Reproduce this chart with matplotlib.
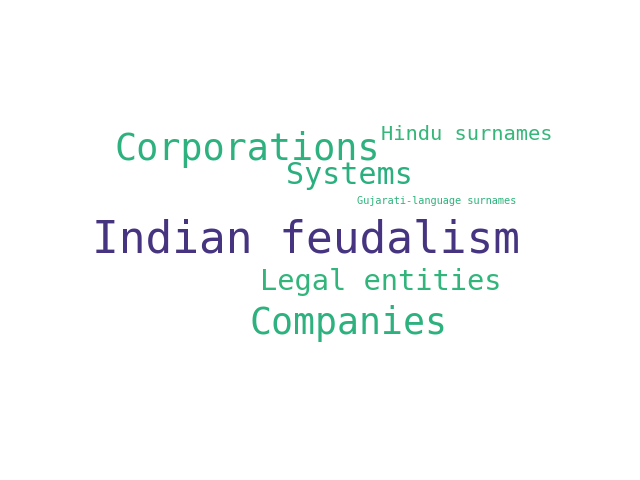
import matplotlib.pyplot as plt

# words and their relative weights
words = ["Indian feudalism", "Corporations", "Companies", "Systems",
         "Legal entities", "Hindu surnames", "Gujarati-language surnames"]
sizes = [32, 26.5, 26.3, 21.6, 20.6, 14.7, 7.4]
colors = ["#463480", "#2db17e", "#2db17e", "#2aaf7f", "#31b57b", "#35b779", "#2fb47c"]
# layout of the cloud (pixel centres on a 640x480 canvas)
xs = [306, 247, 349, 349, 381, 467, 437]
ys = [240, 150, 323, 176, 282, 134, 201]

fig = plt.figure(figsize=(6.4, 4.8), dpi=100)
ax = fig.add_axes([0, 0, 1, 1])
ax.set_xlim(0, 640)
ax.set_ylim(480, 0)
ax.axis('off')

for w, s, c, x, y in zip(words, sizes, colors, xs, ys):
    ax.text(x, y, w, fontsize=s, color=c, family='DejaVu Sans Mono',
            ha='center', va='center')

plt.savefig('out.png')
